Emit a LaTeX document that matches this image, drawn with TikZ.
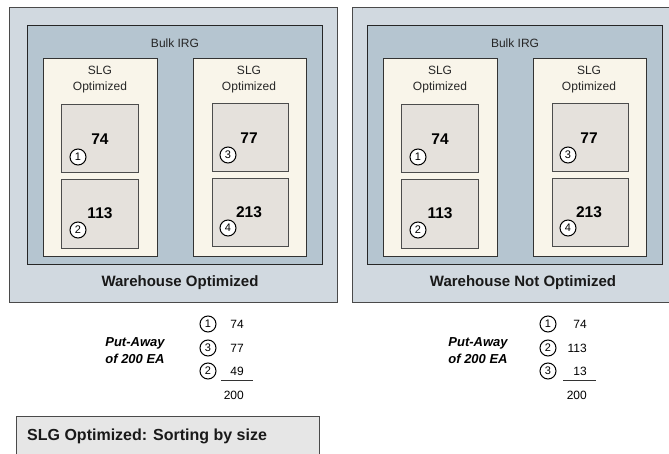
\documentclass[tikz,border=0pt]{standalone}
\usepackage{fontspec}
\setmainfont{Liberation Sans}
\definecolor{panelgray}{HTML}{D1D9E0}
\definecolor{irgblue}{HTML}{B5C5D0}
\definecolor{slgcream}{HTML}{F9F5EA}
\definecolor{bingray}{HTML}{E5E1DC}
\definecolor{legendgray}{HTML}{E6E6E6}
\definecolor{edgegray}{HTML}{4A4A4A}

% contents of one warehouse: the bulk storage type with two sections of two bins
\newcommand\storagelayout{%
  \node[irgbox, minimum width=295pt, minimum height=239pt] (irg) at (27,25) {};
  \node[lbl] (irgname) at (175,43) {Bulk IRG};
  \node[slgbox, minimum width=114pt, minimum height=198pt] (slgA) at (43,58) {};
  \node[slgbox, minimum width=113pt, minimum height=198pt] (slgB) at (193,58) {};
  \node[lbl, align=center] (slgAname) at (100,80) {SLG\\Optimized};
  \node[lbl, align=center] (slgBname) at (249,80) {SLG\\Optimized};
  \node[binbox, minimum width=77pt, minimum height=68pt] (binA1) at (61,104) {};
  \node[binbox, minimum width=77pt, minimum height=69pt] (binA2) at (61,179) {};
  \node[binbox, minimum width=76pt, minimum height=68pt] (binB1) at (212,103) {};
  \node[binbox, minimum width=76pt, minimum height=68pt] (binB2) at (212,178) {};
  \node[qty] (qA1) at (100,139) {74};
  \node[qty] (qA2) at (100,213) {113};
  \node[qty] (qB1) at (249,138) {77};
  \node[qty] (qB2) at (249,212) {213};
  \node[tag] (tA1) at (78,157) {1};
  \node[tag] (tA2) at (78,230) {2};
  \node[tag] (tB1) at (228,155) {3};
  \node[tag] (tB2) at (228,228) {4};
}

\begin{document}
\begin{tikzpicture}[x=1pt, y=-1pt,
  boxbase/.style={rectangle, anchor=north west, inner sep=0pt, line width=1pt},
  panelbox/.style={boxbase, draw=edgegray, fill=panelgray},
  irgbox/.style={boxbase, draw=black!85, fill=irgblue},
  slgbox/.style={boxbase, draw=black!80, fill=slgcream},
  binbox/.style={boxbase, draw=black!70, fill=bingray},
  lbl/.style={inner sep=0pt, font=\fontsize{12}{16}\selectfont, text=black!85},
  qty/.style={inner sep=0pt, font=\fontsize{15.5}{18}\selectfont\bfseries},
  title/.style={inner sep=0pt, font=\fontsize{15}{18}\selectfont\bfseries, text=black!90},
  tag/.style={circle, draw=black, fill=white, line width=1pt, minimum size=16pt,
              inner sep=0pt, font=\fontsize{11}{11}\selectfont},
  amount/.style={inner sep=0pt, anchor=east, font=\fontsize{12}{14}\selectfont},
  putaway/.style={inner sep=0pt, align=center, font=\fontsize{13}{17}\selectfont\bfseries\itshape}]
\useasboundingbox (0,0) rectangle (669,454);
\clip (0,0) rectangle (669,454);

% the two warehouses
\node[panelbox, minimum width=328pt, minimum height=294.5pt] (left) at (9,7.5) {};
\node[panelbox, minimum width=318pt, minimum height=294.5pt] (right) at (352,7.5) {};
\begin{scope}[name prefix=L-]
  \storagelayout
\end{scope}
\begin{scope}[shift={(340,0)}, name prefix=R-]
  \storagelayout
\end{scope}
\node[title] (lefttitle) at (180,283) {Warehouse Optimized};
\node[title] (righttitle) at (523,283) {Warehouse Not Optimized};

% put-away sequence, optimized warehouse
\node[putaway] (pa1) at (135,351) {Put-Away\\of 200 EA};
\node[tag] (pa1t1) at (208,324) {1};
\node[tag] (pa1t2) at (208,348) {3};
\node[tag] (pa1t3) at (208,371) {2};
\node[amount] (pa1a1) at (244,324) {74};
\node[amount] (pa1a2) at (244,348) {77};
\node[amount] (pa1a3) at (244,371) {49};
\coordinate (pa1rs) at (221,380);
\coordinate (pa1re) at (253,380);
\draw[line width=0.9pt, black!80] (pa1rs) -- (pa1re);
\node[amount] (pa1sum) at (244,395) {200};

% put-away sequence, warehouse not optimized
\node[putaway] (pa2) at (478,351) {Put-Away\\of 200 EA};
\node[tag] (pa2t1) at (548,324) {1};
\node[tag] (pa2t2) at (548,348) {2};
\node[tag] (pa2t3) at (548,371) {3};
\node[amount] (pa2a1) at (587,324) {74};
\node[amount] (pa2a2) at (587,348) {113};
\node[amount] (pa2a3) at (587,371) {13};
\coordinate (pa2rs) at (563,380);
\coordinate (pa2re) at (596,380);
\draw[line width=0.9pt, black!80] (pa2rs) -- (pa2re);
\node[amount] (pa2sum) at (587,395) {200};

% legend
\node[boxbase, draw=edgegray, fill=legendgray, minimum width=303pt, minimum height=50pt] (legend) at (16,415.5) {};
\node[inner sep=0pt, anchor=west, font=\fontsize{16}{18}\selectfont\bfseries, text=black!90] (legendtext) at (27,436) {SLG Optimized: Sorting by size};
\end{tikzpicture}
\end{document}
